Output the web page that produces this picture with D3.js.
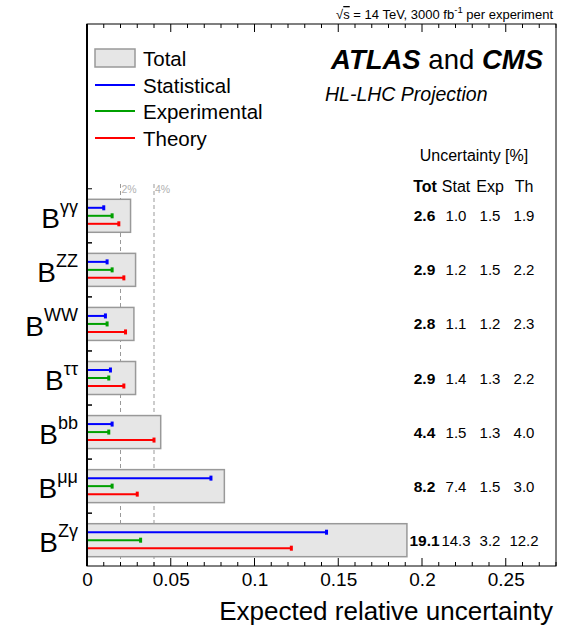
<!DOCTYPE html>
<html><head><meta charset="utf-8">
<script src="https://cdn.jsdelivr.net/npm/d3@7"></script>
<style>
body{margin:0;background:#fff;}
text{font-family:"Liberation Sans",Arial,Helvetica,sans-serif;}
</style></head>
<body><svg id="c" width="564" height="626"></svg>
<script>
const categories = ["γγ","ZZ","WW","ττ","bb","μμ","Zγ"];
const totalVals = [2.6, 2.9, 2.8, 2.9, 4.4, 8.2, 19.1];
const statVals  = [1.0, 1.2, 1.1, 1.4, 1.5, 7.4, 14.3];
const expVals   = [1.5, 1.5, 1.2, 1.3, 1.3, 1.5, 3.2];
const thVals    = [1.9, 2.2, 2.3, 2.2, 4.0, 3.0, 12.2];
const xTicks = [0, 0.05, 0.1, 0.15, 0.2, 0.25];
const xTickLabels = ["0","0.05","0.1","0.15","0.2","0.25"];
const refLines = [0.02, 0.04];
const refLabels = ["2%","4%"];
const legendItems = ["Total","Statistical","Experimental","Theory"];
const colHeaders = ["Tot","Stat","Exp","Th"];

const svg = d3.select("#c");
const L = 87, R = 556, T = 24, B = 566;
const x = d3.scaleLinear().domain([0, 0.28]).range([L, R]);
const y = d3.scalePoint().domain(categories).range([215.8, 540.2]);
const colors = {stat:"#0000ff", exp:"#00a000", th:"#ff0000"};

// reference dashed lines
refLines.forEach((v,i)=>{
  svg.append("line").attr("x1",x(v)).attr("x2",x(v)).attr("y1",184).attr("y2",B)
    .attr("stroke","#999").attr("stroke-width",1).attr("stroke-dasharray","4,3");
  svg.append("text").attr("x",x(v)+1).attr("y",193).attr("font-size",10.5)
    .attr("fill","#b0b0b0").text(refLabels[i]);
});

const rows = categories.map((c,i)=>({c, tot:totalVals[i], stat:statVals[i], exp:expVals[i], th:thVals[i]}));
const g = svg.append("g");
const fmt = d3.format(".1f");
rows.forEach(r=>{
  const cy = y(r.c);
  g.append("rect").attr("x",x(0)).attr("y",cy-16.5).attr("width",x(r.tot/100)-x(0)).attr("height",33)
    .attr("fill","#e6e6e6").attr("stroke","#999").attr("stroke-width",1.5);
  [["stat",-8],["exp",0],["th",8]].forEach(([k,off])=>{
    const xe = x(r[k]/100);
    g.append("line").attr("x1",x(0)).attr("x2",xe).attr("y1",cy+off).attr("y2",cy+off)
      .attr("stroke",colors[k]).attr("stroke-width",2);
    g.append("rect").attr("x",xe-1.5).attr("y",cy+off-2.5).attr("width",3).attr("height",5).attr("fill",colors[k]);
  });
  // table values
  g.append("text").attr("x",424.5).attr("y",cy+5.5).attr("text-anchor","middle").attr("font-size",15.5)
    .attr("font-weight","bold").text(fmt(r.tot));
  g.append("text").attr("x",456).attr("y",cy+5.5).attr("text-anchor","middle").attr("font-size",15).text(fmt(r.stat));
  g.append("text").attr("x",490).attr("y",cy+5.5).attr("text-anchor","middle").attr("font-size",15).text(fmt(r.exp));
  g.append("text").attr("x",524).attr("y",cy+5.5).attr("text-anchor","middle").attr("font-size",15).text(fmt(r.th));
  // y label
  const t = svg.append("text").attr("x",78).attr("y",cy+12).attr("text-anchor","end").attr("font-size",28);
  t.append("tspan").text("B");
  t.append("tspan").attr("font-size",18).attr("dy",-15).text(r.c);
});

// frame
svg.append("rect").attr("x",L).attr("y",T).attr("width",R-L).attr("height",B-T)
  .attr("fill","none").attr("stroke","#000").attr("stroke-width",1);
svg.append("line").attr("x1",L).attr("x2",L).attr("y1",T).attr("y2",B).attr("stroke","#000").attr("stroke-width",2);

// bottom axis
const minor = d3.range(0, 0.2801, 0.01);
const bx = svg.append("g").attr("transform",`translate(0,${B})`);
bx.call(d3.axisBottom(x).tickValues(xTicks).tickFormat((d,i)=>xTickLabels[i]).tickSizeInner(0).tickSizeOuter(0).tickPadding(7));
bx.select(".domain").remove();
bx.selectAll("text").attr("font-size",19).attr("font-family","Liberation Sans,Arial,sans-serif").attr("fill","#000");
minor.forEach(v=>{
  const major = Math.abs(Math.round(v*20)-v*20)<1e-6;
  const len = major?8:4;
  svg.append("line").attr("x1",x(v)).attr("x2",x(v)).attr("y1",B).attr("y2",B-len).attr("stroke","#000");
  svg.append("line").attr("x1",x(v)).attr("x2",x(v)).attr("y1",T).attr("y2",T+len).attr("stroke","#000");
});
// y ticks between rows
const step = y.step();
categories.forEach(c=>{
  [y(c)-step/2, y(c)+step/2].forEach(v=>{
    if(v>T && v<B) svg.append("line").attr("x1",L).attr("x2",L+5).attr("y1",v).attr("y2",v).attr("stroke","#000");
  });
});

// axis title
svg.append("text").attr("x",553).attr("y",620).attr("text-anchor","end").attr("font-size",26).text("Expected relative uncertainty");

// top text
const tt = svg.append("text").attr("x",553).attr("y",19).attr("text-anchor","end").attr("font-size",13);
tt.append("tspan").text("√");
tt.append("tspan").attr("text-decoration","overline").text("s");
tt.append("tspan").text(" = 14 TeV, 3000 fb");
tt.append("tspan").attr("font-size",9.5).attr("dy",-6).text("-1");
tt.append("tspan").attr("dy",6).text(" per experiment");

// legend
const legY = [58, 85, 111, 138];
const legKeys = [null, "stat", "exp", "th"];
legendItems.forEach((lab,i)=>{
  if(i===0){
    svg.append("rect").attr("x",95).attr("y",49).attr("width",40).attr("height",18)
      .attr("fill","#e6e6e6").attr("stroke","#999").attr("stroke-width",1.5);
  } else {
    svg.append("line").attr("x1",95).attr("x2",135).attr("y1",legY[i]).attr("y2",legY[i])
      .attr("stroke",colors[legKeys[i]]).attr("stroke-width",2);
  }
  svg.append("text").attr("x",143).attr("y",legY[i]+7.5).attr("font-size",20.5).text(lab);
});

// ATLAS and CMS
const ac = svg.append("text").attr("x",543).attr("y",69).attr("text-anchor","end").attr("font-size",27.5);
ac.append("tspan").attr("font-weight","bold").attr("font-style","italic").text("ATLAS");
ac.append("tspan").text(" and ");
ac.append("tspan").attr("font-weight","bold").attr("font-style","italic").text("CMS");
svg.append("text").attr("x",325).attr("y",101).attr("font-size",19.5).attr("font-style","italic").text("HL-LHC Projection");

// table header
svg.append("text").attr("x",474).attr("y",161).attr("text-anchor","middle").attr("font-size",16).text("Uncertainty [%]");
const hx = [425,456,490,524];
colHeaders.forEach((h,i)=>{
  svg.append("text").attr("x",hx[i]).attr("y",192).attr("text-anchor","middle").attr("font-size",16)
    .attr("font-weight", i===0?"bold":"normal").text(h);
});
</script></body></html>
